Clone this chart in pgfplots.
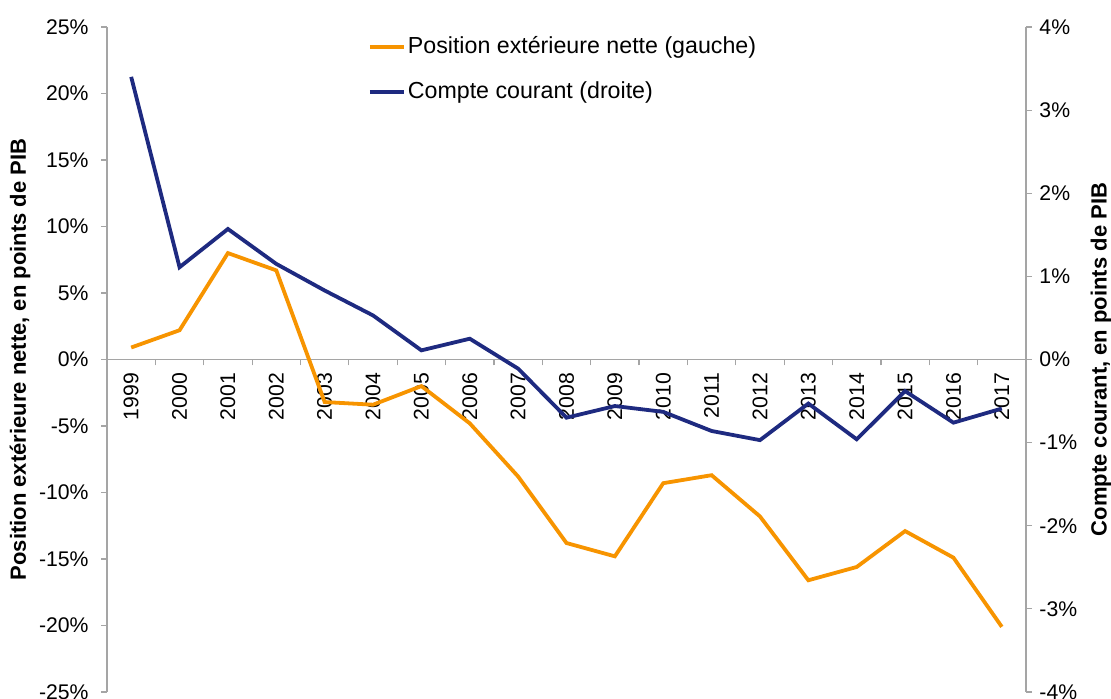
\documentclass[border=0pt]{standalone}
\usepackage{pgfplots}
\pgfplotsset{compat=1.18}
\usepackage{fontspec}
\setmainfont{Liberation Sans}

\definecolor{pxorange}{RGB}{247,148,0}
\definecolor{ccblue}{RGB}{30,42,128}
\definecolor{axgray}{RGB}{165,165,165}

\begin{document}
\fontsize{10.6}{12.6}\selectfont
\begin{tikzpicture}
\pgfplotsset{
  every axis/.append style={
    scale only axis,
    width=459.5pt, height=332.5pt,
    xmin=-0.5, xmax=18.5,
    clip=false,
    /pgf/number format/assume math mode=true,
    axis line style={axgray, line width=0.6pt},
    every tick/.style={axgray, line width=0.6pt},
    hide obscured x ticks=false,
    hide obscured y ticks=false,
  },
}

% gauche : position exterieure nette
\begin{axis}[
    name=main,
    axis y line*=left,
    axis x line*=middle,
    ymin=-25, ymax=25,
    ytick={-25,-20,...,25},
    yticklabel={\pgfmathprintnumber{\tick}\%},
    yticklabel style={xshift=-2.5pt},
    ytick align=outside,
    major tick length=3pt,
    xtick={0,...,18},
    xticklabels={1999,2000,2001,2002,2003,2004,2005,2006,2007,2008,2009,2010,2011,2012,2013,2014,2015,2016,2017},
    major x tick style={draw=none},
    minor xtick={-0.5,0.5,...,18.5},
    minor tick length=3pt,
    xtick align=outside,
    xticklabel style={rotate=90, anchor=east},
    every axis y label/.style={at={(axis description cs:-0.0947,0.5)}, rotate=90, anchor=center,
      font=\fontsize{11}{13}\selectfont\bfseries},
    ylabel={Position extérieure nette, en points de PIB},
  ]
  \addplot[pxorange, line width=1.9pt] coordinates {
    (0,0.9) (1,2.2) (2,8.0) (3,6.7) (4,-3.2) (5,-3.4) (6,-2.0) (7,-4.8)
    (8,-8.8) (9,-13.8) (10,-14.8) (11,-9.3) (12,-8.7) (13,-11.8)
    (14,-16.6) (15,-15.6) (16,-12.9) (17,-14.9) (18,-20.1)
  };
\end{axis}

% droite : compte courant
\begin{axis}[
    axis y line*=right,
    axis x line=none,
    ymin=-4, ymax=4,
    ytick={-4,...,4},
    yticklabel={\pgfmathprintnumber{\tick}\%},
    ytick align=outside,
    major tick length=3pt,
    every axis y label/.style={at={(axis description cs:1.0816,0.5)}, rotate=90, anchor=center,
      font=\fontsize{11}{13}\selectfont\bfseries},
    ylabel={Compte courant, en points de PIB},
    legend style={at={(0.277,0.995)}, anchor=north west, draw=none, fill=none,
      font=\fontsize{11.6}{13.5}\selectfont, row sep=10.5pt,
      nodes={inner sep=1pt}},
    legend cell align=left,
  ]
  \addlegendimage{pxorange, line width=1.8pt}
  \addlegendentry{Position extérieure nette (gauche)}
  \addplot[ccblue, line width=1.9pt] coordinates {
    (0,3.40) (1,1.11) (2,1.57) (3,1.15) (4,0.83) (5,0.53) (6,0.11) (7,0.25)
    (8,-0.11) (9,-0.70) (10,-0.56) (11,-0.63) (12,-0.86) (13,-0.97)
    (14,-0.53) (15,-0.96) (16,-0.38) (17,-0.76) (18,-0.59)
  };
  \addlegendentry{Compte courant (droite)}
\end{axis}

\pgfresetboundingbox
\path (main.south west) +(-53.5pt,-3.5pt) (main.north east) +(42.5pt,13.5pt);
\end{tikzpicture}
\end{document}
